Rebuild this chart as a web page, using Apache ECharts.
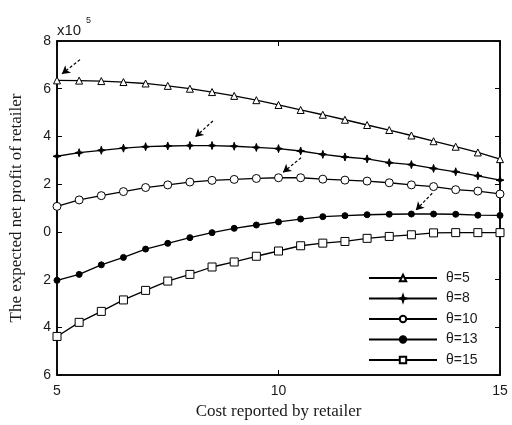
<!DOCTYPE html>
<html>
<head>
<meta charset="utf-8">
<script src="https://cdn.jsdelivr.net/npm/echarts@6/dist/echarts.min.js"></script>
<style>html,body{margin:0;padding:0;background:#fff}#c{width:512px;height:425px}</style>
</head>
<body>
<div id="c"></div>
<script>
// x: cost reported by retailer
var costs = [5,5.5,6,6.5,7,7.5,8,8.5,9,9.5,10,10.5,11,11.5,12,12.5,13,13.5,14,14.5,15];
// expected net profit (x10^5)
var theta5  = [6.35,6.34,6.32,6.28,6.22,6.12,6.00,5.86,5.70,5.52,5.32,5.11,4.91,4.70,4.48,4.27,4.04,3.80,3.57,3.33,3.05];
var theta8  = [3.17,3.32,3.42,3.51,3.57,3.60,3.62,3.62,3.59,3.54,3.49,3.39,3.25,3.14,3.06,2.90,2.82,2.66,2.52,2.35,2.17];
var theta10 = [1.07,1.34,1.52,1.69,1.86,1.97,2.09,2.16,2.20,2.24,2.27,2.27,2.21,2.17,2.13,2.06,1.97,1.90,1.77,1.71,1.59];
var theta13 = [-2.03,-1.78,-1.38,-1.07,-0.72,-0.48,-0.24,-0.03,0.15,0.29,0.42,0.54,0.64,0.68,0.72,0.74,0.75,0.75,0.74,0.70,0.69];
var theta15 = [-4.38,-3.79,-3.33,-2.85,-2.45,-2.06,-1.78,-1.47,-1.26,-1.02,-0.80,-0.58,-0.47,-0.40,-0.27,-0.19,-0.12,-0.04,-0.03,-0.03,-0.03];
var seriesNames = ['θ=5','θ=8','θ=10','θ=13','θ=15'];
// annotation arrows [fromX, fromY, toX, toY] in data units
var arrows = [
  [5.52,7.22,5.11,6.62],
  [8.52,4.65,8.12,3.98],
  [10.51,3.11,10.10,2.49],
  [13.47,1.62,13.10,0.91],
  [15.27,0.83,15.05,0.30]
];

function pairs(ys){ return costs.map(function(x,i){ return [x, ys[i]]; }); }
var starPath = 'path://M0,-10 L2.5,-2.5 L10,0 L2.5,2.5 L0,10 L-2.5,2.5 L-10,0 L-2.5,-2.5 Z';
var styles = [
  {symbol:'triangle', size:7, fill:'#fff'},
  {symbol:starPath, size:8, fill:'#000'},
  {symbol:'circle', size:8, fill:'#fff'},
  {symbol:'circle', size:6, fill:'#000'},
  {symbol:'rect', size:8, fill:'#fff'}
];
var datas = [theta5, theta8, theta10, theta13, theta15];

var series = datas.map(function(d, i){
  return {
    name: seriesNames[i], type:'line', data: pairs(d),
    symbol: styles[i].symbol, symbolSize: styles[i].size, showAllSymbol:true,
    itemStyle:{color:styles[i].fill, borderColor:'#000', borderWidth:1},
    lineStyle:{color:'#000', width:1.3},
    animation:false, clip:false
  };
});
series[0].markLine = {
  silent:true, symbol:['none','arrow'], symbolSize:[7,8], animation:false,
  label:{show:false},
  lineStyle:{color:'#000', width:1.2, type:[3,2], opacity:1},
  emphasis:{disabled:true},
  data: arrows.map(function(a){ return [{coord:[a[0],a[1]]},{coord:[a[2],a[3]]}]; })
};

var txt = '#1a1a1a';
var option = {
  backgroundColor:'#fff',
  grid:{left:57, right:12, top:41, bottom:47, show:true, borderColor:'#000', borderWidth:1.5},
  xAxis:[{
    type:'value', min:5, max:15, interval:5,
    name:'Cost reported by retailer', nameLocation:'middle', nameGap:24,
    nameTextStyle:{fontFamily:'Liberation Serif', fontSize:17, color:txt},
    axisLine:{show:true, onZero:false, lineStyle:{color:'#000', width:1.5}},
    axisTick:{show:true, inside:true, length:5, lineStyle:{color:'#000'}},
    axisLabel:{fontFamily:'Liberation Sans', fontSize:14, color:txt, margin:9},
    splitLine:{show:false}
  },{
    type:'value', min:5, max:15, interval:5, position:'top',
    axisLine:{show:true, onZero:false, lineStyle:{color:'#000', width:1.5}},
    axisTick:{show:true, inside:true, length:5, lineStyle:{color:'#000'}},
    axisLabel:{show:false}, splitLine:{show:false}
  }],
  yAxis:[{
    type:'value', min:-6, max:8, interval:2,
    name:'The expected net profit of retailer', nameLocation:'middle', nameGap:32, nameRotate:90,
    nameTextStyle:{fontFamily:'Liberation Serif', fontSize:17, color:txt},
    axisLine:{show:true, onZero:false, lineStyle:{color:'#000', width:1.5}},
    axisTick:{show:true, inside:true, length:5, lineStyle:{color:'#000'}},
    axisLabel:{fontFamily:'Liberation Sans', fontSize:14, color:txt, margin:6,
      formatter:function(v){ return String(Math.abs(v)); }},
    splitLine:{show:false}
  },{
    type:'value', min:-6, max:8, interval:2, position:'right',
    axisLine:{show:true, onZero:false, lineStyle:{color:'#000', width:1.5}},
    axisTick:{show:true, inside:true, length:5, lineStyle:{color:'#000'}},
    axisLabel:{show:false}, splitLine:{show:false}
  }],
  legend:{
    data: seriesNames, orient:'vertical', left:363, top:266,
    itemWidth:68, itemHeight:8, itemGap:6.5,
    textStyle:{fontFamily:'Liberation Sans', fontSize:14, lineHeight:14, color:txt, padding:[0,0,0,4]},
    backgroundColor:'transparent', borderWidth:0
  },
  graphic:[
    {type:'text', left:57, top:23,
     style:{text:'x10', fontFamily:'Liberation Sans', fontSize:15, fill:txt}},
    {type:'text', left:86, top:16,
     style:{text:'5', fontFamily:'Liberation Sans', fontSize:9, fill:txt}}
  ],
  series: series
};
var chart = echarts.init(document.getElementById('c'), null, {renderer:'canvas'});
chart.setOption(option);
</script>
</body>
</html>
